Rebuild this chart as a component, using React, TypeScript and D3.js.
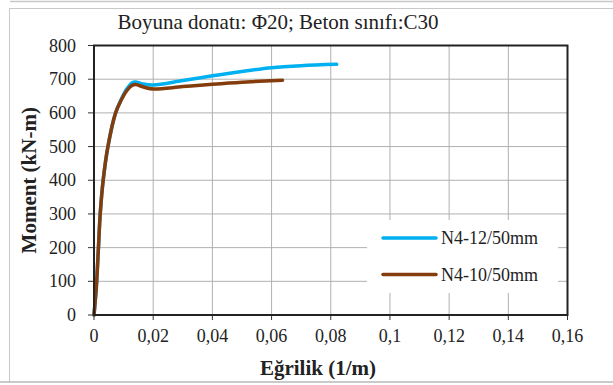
import * as d3 from 'd3';
import React from 'react';

// curvature (1/m) vs moment (kN-m)
const blueSeries: [number, number][] = [
  [0, 0], [0.0008, 85], [0.0015, 200], [0.0021, 300], [0.0031, 400],
  [0.0047, 500], [0.0073, 600], [0.0092, 640], [0.011, 670], [0.0128, 689],
  [0.014, 692], [0.0165, 686], [0.02, 683], [0.03, 696], [0.04, 710],
  [0.05, 723], [0.06, 734], [0.07, 740], [0.082, 744]
];
const brownSeries: [number, number][] = [
  [0, 0], [0.0008, 85], [0.0015, 200], [0.0021, 300], [0.0031, 400],
  [0.0047, 500], [0.0073, 600], [0.0092, 638], [0.011, 665], [0.0128, 681],
  [0.014, 684], [0.017, 676], [0.02, 671], [0.03, 678], [0.04, 685],
  [0.05, 691], [0.0637, 697]
];
const xTicks = [0, 0.02, 0.04, 0.06, 0.08, 0.1, 0.12, 0.14, 0.16];
const yTicks = [0, 100, 200, 300, 400, 500, 600, 700, 800];
const seriesNames = ['N4-12/50mm', 'N4-10/50mm'];
const seriesColors = ['#00b0f0', '#843c0c'];

const W = 613;
const H = 385;
const plot = { left: 94, right: 567.5, top: 45.5, bottom: 315 };
const serif = '"Liberation Serif", "Times New Roman", serif';

export default function App() {
  const x = d3.scaleLinear().domain([0, 0.16]).range([plot.left, plot.right]);
  const y = d3.scaleLinear().domain([0, 800]).range([plot.bottom, plot.top]);

  const line = d3
    .line<[number, number]>()
    .x((d) => x(d[0]))
    .y((d) => y(d[1]))
    .curve(d3.curveCatmullRom.alpha(0.5));

  const fmt = (v: number) => String(v).replace('.', ',');

  return (
    <svg
      width={W}
      height={H}
      style={{ position: 'absolute', left: 0, top: 0, background: '#fff' }}
      fontFamily={serif}
    >
      {/* outer frame */}
      <line x1={10} x2={W} y1={1.5} y2={1.5} stroke="#c8c8c8" strokeWidth={1.5} />
      <line x1={9.5} x2={W} y1={8.5} y2={8.5} stroke="#c8c8c8" strokeWidth={1} />
      <line x1={9.5} x2={9.5} y1={8.5} y2={382} stroke="#c8c8c8" strokeWidth={1} />
      <line x1={0} x2={W} y1={382} y2={382} stroke="#b8b8b8" strokeWidth={1.5} />

      <text x={278} y={29} textAnchor="middle" fontSize={21} fill="#222">
        Boyuna donatı: Φ20; Beton sınıfı:C30
      </text>

      {/* grid */}
      {xTicks.slice(1, -1).map((t) => (
        <line key={'gx' + t} x1={x(t)} x2={x(t)} y1={plot.top} y2={plot.bottom} stroke="#b0b0b0" strokeWidth={1} />
      ))}
      {yTicks.slice(1, -1).map((t) => (
        <line key={'gy' + t} x1={plot.left} x2={plot.right} y1={y(t)} y2={y(t)} stroke="#b0b0b0" strokeWidth={1} />
      ))}

      {/* ticks + labels */}
      {xTicks.map((t) => (
        <g key={'tx' + t}>
          <line x1={x(t)} x2={x(t)} y1={plot.bottom} y2={plot.bottom + 5} stroke="#333" strokeWidth={1} />
          <text x={x(t)} y={342} textAnchor="middle" fontSize={18} fill="#222">
            {fmt(t)}
          </text>
        </g>
      ))}
      {yTicks.map((t) => (
        <g key={'ty' + t}>
          <line x1={plot.left - 6} x2={plot.left} y1={y(t)} y2={y(t)} stroke="#333" strokeWidth={1} />
          <text x={76} y={y(t)} dy="0.34em" textAnchor="end" fontSize={18} fill="#222">
            {t}
          </text>
        </g>
      ))}

      {/* legend background */}
      <rect x={367} y={220} width={191} height={73} fill="#fff" />

      {/* series */}
      <path d={line(blueSeries) || ''} fill="none" stroke={seriesColors[0]} strokeWidth={3.5} strokeLinecap="round" />
      <path d={line(brownSeries) || ''} fill="none" stroke={seriesColors[1]} strokeWidth={3.5} strokeLinecap="round" />

      {/* plot border */}
      <rect
        x={plot.left}
        y={plot.top}
        width={plot.right - plot.left}
        height={plot.bottom - plot.top}
        fill="none"
        stroke="#222"
        strokeWidth={2}
      />

      {/* legend */}
      {seriesNames.map((name, i) => (
        <g key={name} transform={`translate(0,${238 + i * 36.5})`}>
          <line x1={383} x2={436} y1={0} y2={0} stroke={seriesColors[i]} strokeWidth={3.5} strokeLinecap="round" />
          <text x={441} y={0} dy="0.34em" fontSize={18} fill="#222">
            {name}
          </text>
        </g>
      ))}

      {/* axis titles */}
      <text x={318} y={375} textAnchor="middle" fontSize={21} fontWeight="bold" fill="#222">
        Eğrilik (1/m)
      </text>
      <text
        transform={`translate(36,${(plot.top + plot.bottom) / 2}) rotate(-90)`}
        textAnchor="middle"
        fontSize={21}
        fontWeight="bold"
        fill="#222"
      >
        Moment (kN-m)
      </text>
    </svg>
  );
}
